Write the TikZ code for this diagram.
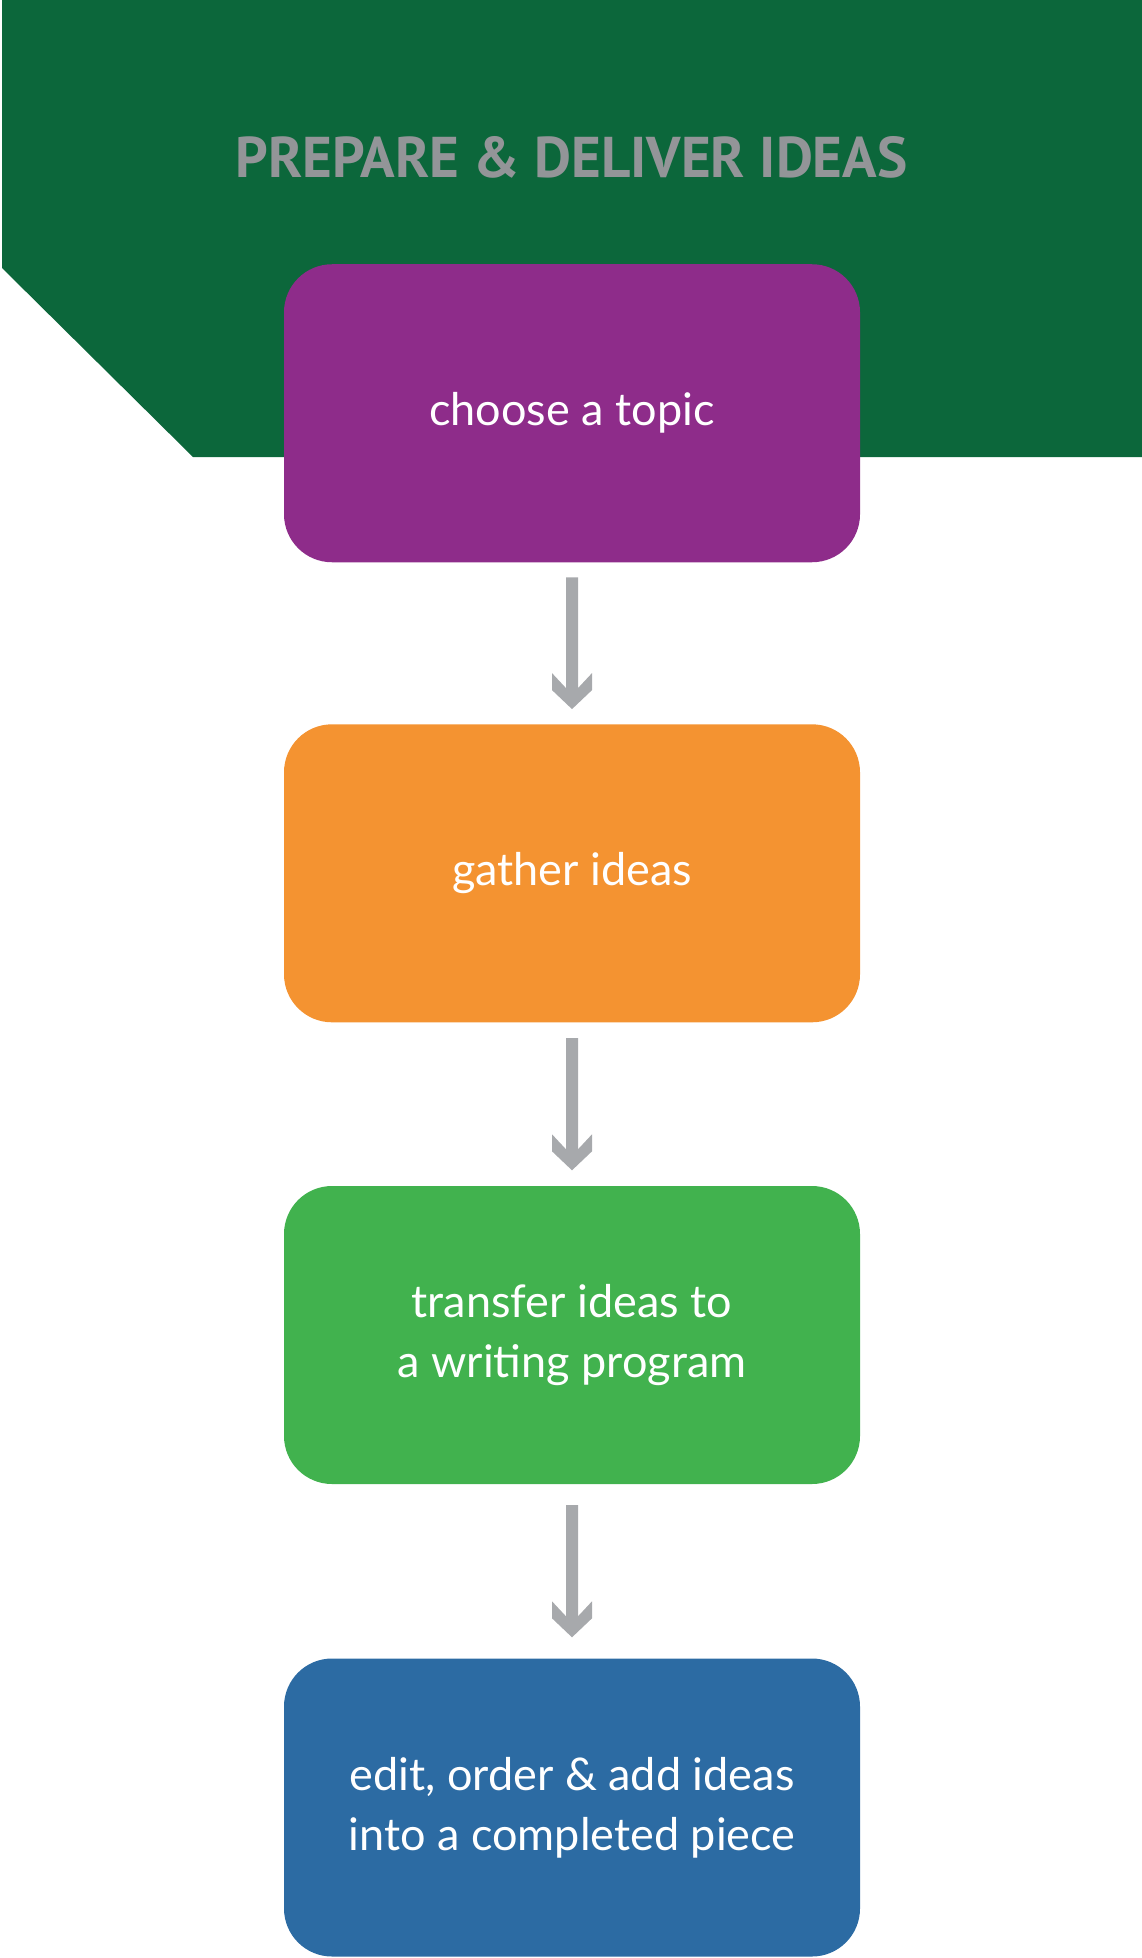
\documentclass[tikz,border=0pt]{standalone}
\usepackage{fontspec}
\usepackage{graphicx}
\setmainfont{Lato}
\newfontfamily\titlefont{PT Sans}
\usetikzlibrary{calc}
\definecolor{banner}{RGB}{12,103,59}
\definecolor{cpurple}{RGB}{142,44,138}
\definecolor{corange}{RGB}{244,147,49}
\definecolor{cgreen}{RGB}{65,178,78}
\definecolor{cblue}{RGB}{44,107,163}
\definecolor{arrowgray}{RGB}{167,169,172}
\definecolor{titlegray}{RGB}{147,149,152}
\newcommand\chev[3]{%
  \fill[arrowgray] ($(#1.south)+(-6,#3)$) -- ($(#2.north)+(-6,-#3-21)$)
    -- ($(#2.north)+(-20,-#3-36)$) -- ($(#2.north)+(-20,-#3-19)$)
    -- ($(#2.north)+(0,-#3)$) -- ($(#2.north)+(20,-#3-19)$)
    -- ($(#2.north)+(20,-#3-36)$) -- ($(#2.north)+(6,-#3-21)$)
    -- ($(#1.south)+(6,#3)$) -- cycle;}
\tikzset{
  stepbox/.style={rectangle, rounded corners=48pt, minimum width=576pt,
    minimum height=298pt, text=white, align=center, inner sep=0pt,
    font=\fontsize{45}{60}\selectfont},
  titlestyle/.style={text=titlegray, inner sep=0pt, font=\titlefont\bfseries}
}
\begin{document}
\begin{tikzpicture}[x=1pt,y=-1pt]
\useasboundingbox (0,0) rectangle (1142,1958);
\fill[banner] (2,0) -- (1142,0) -- (1142,457) -- (193,457) -- (2,268) -- cycle;
\node[titlestyle, anchor=base] (title) at (571.5,178) {\resizebox{672pt}{41pt}{PREPARE \& DELIVER IDEAS}};
\node[stepbox, fill=cpurple] (b1) at (572,413.25) {choose a topic};
\node[stepbox, fill=corange] (b2) at (572,873.3) {gather ideas};
\node[stepbox, fill=cgreen] (b3) at (572,1335) {transfer ideas to\\a writing program};
\node[stepbox, fill=cblue] (b4) at (572,1807.5) {edit, order \& add ideas\\into a completed piece};
\chev{b1}{b2}{15}
\chev{b2}{b3}{15.5}
\chev{b3}{b4}{21}
\end{tikzpicture}
\end{document}
